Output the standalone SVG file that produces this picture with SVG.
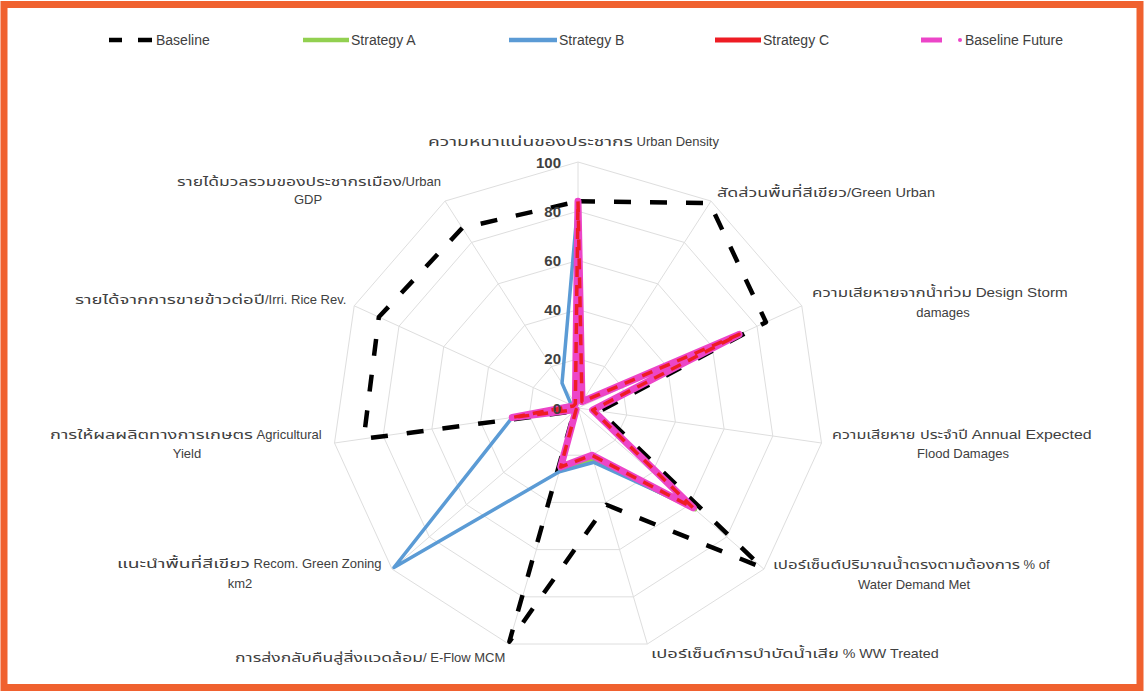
<svg xmlns="http://www.w3.org/2000/svg" width="1145" height="693" viewBox="0 0 1145 693">
<style>
.grid{fill:none;stroke:#dedede;stroke-width:1}
.lbl{font-family:"Liberation Sans","Noto Sans","Noto Sans Thai",sans-serif;font-size:13px;fill:#404040}
.tick{font-family:"Liberation Sans",sans-serif;font-size:15px;font-weight:bold;fill:#404040;text-anchor:end;dominant-baseline:central}
.leg{font-family:"Liberation Sans","Noto Sans",sans-serif;font-size:14px;fill:#404040;dominant-baseline:central}
.s{fill:none;stroke-linejoin:round}
</style>
<rect x="0" y="0" width="1145" height="693" fill="#ffffff"/>
<rect id="frame" x="4" y="4.5" width="1136" height="683" fill="#ffffff" stroke="#f0612f" stroke-width="7"/>

<g id="grid">
<polygon class="grid" points="578,358.8 604.6,366.61 622.75,387.56 626.7,415 615.18,440.22 591.86,455.21 564.14,455.21 540.82,440.22 529.3,415 533.25,387.56 551.4,366.61"/>
<polygon class="grid" points="578,309.6 631.2,325.22 667.51,367.12 675.4,422 652.37,472.44 605.72,502.41 550.28,502.41 503.63,472.44 480.6,422 488.49,367.12 524.8,325.22"/>
<polygon class="grid" points="578,260.4 657.8,283.83 712.26,346.68 724.1,429 689.55,504.66 619.58,549.62 536.42,549.62 466.45,504.66 431.9,429 443.74,346.68 498.2,283.83"/>
<polygon class="grid" points="578,211.2 684.4,242.44 757.02,326.25 772.8,436.01 726.73,536.88 633.44,596.83 522.56,596.83 429.27,536.88 383.2,436.01 398.98,326.25 471.6,242.44"/>
<polygon class="grid" points="578,162 711,201.05 801.77,305.81 821.5,443.01 763.91,569.1 647.31,644.03 508.69,644.03 392.09,569.1 334.5,443.01 354.23,305.81 445,201.05"/>
<path class="grid" d="M578,408L578,162M578,408L711,201.05M578,408L801.77,305.81M578,408L821.5,443.01M578,408L763.91,569.1M578,408L647.31,644.03M578,408L508.69,644.03M578,408L392.09,569.1M578,408L334.5,443.01M578,408L354.23,305.81M578,408L445,201.05"/>
</g>

<g id="series">
<polygon id="baseline" class="s" stroke="#000000" stroke-width="4.5" stroke-dasharray="17 19" points="578,201.36 709.67,203.12 765.97,322.16 599.91,411.15 762.05,567.48 606.42,504.77 509.39,641.67 574.28,411.22 363.72,438.81 378.85,317.05 462.29,227.96"/>
<polygon id="strategy-a" class="s" stroke="#92d050" stroke-width="4" points="578,201.36 581.99,401.79 739.11,334.42 592.61,410.1 695.13,509.49 593.25,459.93 559.98,469.37 576.14,409.61 512.26,417.45 573.52,405.96 575.34,403.86"/>
<polygon id="strategy-b" class="s" stroke="#5b9bd5" stroke-width="3.5" points="578,201.36 581.99,401.79 739.11,334.42 592.61,410.1 693.27,507.88 593.94,462.29 559.29,471.73 393.95,567.48 512.26,417.45 571.29,404.93 562.04,383.17"/>
<polygon id="baseline-future" class="s" stroke="#ec45c8" stroke-width="7" points="578,201.36 581.99,401.79 739.11,334.42 592.61,410.1 693.27,507.88 591.86,455.21 560.67,467.01 576.14,409.61 512.26,417.45 573.52,405.96 575.34,403.86"/>
<polygon id="strategy-c" class="s" stroke="#ee1c24" stroke-width="3.5" stroke-dasharray="11 8" points="578,201.36 581.99,401.79 739.11,334.42 592.61,410.1 693.27,507.88 591.86,455.21 560.67,467.01 576.14,409.61 512.26,417.45 573.52,405.96 575.34,403.86"/>
</g>

<g id="ticks">
<text class="tick" x="561" y="408">0</text>
<text class="tick" x="561" y="358.8">20</text>
<text class="tick" x="561" y="309.6">40</text>
<text class="tick" x="561" y="260.4">60</text>
<text class="tick" x="561" y="211.2">80</text>
<text class="tick" x="561" y="162">100</text>
</g>

<g id="axis-labels" class="lbl">
<text x="428" y="146"><tspan textLength="205" lengthAdjust="spacingAndGlyphs">ความหนาแน่นของประชากร</tspan> Urban Density</text>
<text x="717" y="197"><tspan textLength="130" lengthAdjust="spacingAndGlyphs">สัดส่วนพื้นที่สีเขียว</tspan><tspan textLength="88" lengthAdjust="spacingAndGlyphs">/Green Urban</tspan></text>
<text x="812" y="297"><tspan textLength="160" lengthAdjust="spacingAndGlyphs">ความเสียหายจากน้ำท่วม</tspan> <tspan textLength="92" lengthAdjust="spacingAndGlyphs">Design Storm</tspan></text>
<text x="943" y="317" text-anchor="middle">damages</text>
<text x="832" y="439"><tspan textLength="136" lengthAdjust="spacingAndGlyphs">ความเสียหาย ประจำปี</tspan> <tspan textLength="120" lengthAdjust="spacingAndGlyphs">Annual Expected</tspan></text>
<text x="963" y="458" text-anchor="middle">Flood Damages</text>
<text x="773" y="569"><tspan textLength="247" lengthAdjust="spacingAndGlyphs">เปอร์เซ็นต์ปริมาณน้ำตรงตามต้องการ</tspan> % of</text>
<text x="914" y="589" text-anchor="middle">Water Demand Met</text>
<text x="651" y="658"><tspan textLength="188" lengthAdjust="spacingAndGlyphs">เปอร์เซ็นต์การบำบัดน้ำเสีย</tspan> <tspan textLength="96" lengthAdjust="spacingAndGlyphs">% WW Treated</tspan></text>
<text x="235" y="662"><tspan textLength="188" lengthAdjust="spacingAndGlyphs">การส่งกลับคืนสู่สิ่งแวดล้อม</tspan>/ E-Flow MCM</text>
<text x="117" y="568"><tspan textLength="133" lengthAdjust="spacingAndGlyphs">แนะนำพื้นที่สีเขียว</tspan> Recom. Green Zoning</text>
<text x="240" y="588" text-anchor="middle">km2</text>
<text x="50" y="439"><tspan textLength="203" lengthAdjust="spacingAndGlyphs">การให้ผลผลิตทางการเกษตร</tspan> Agricultural</text>
<text x="187" y="458" text-anchor="middle">Yield</text>
<text x="75" y="304"><tspan textLength="190" lengthAdjust="spacingAndGlyphs">รายได้จากการขายข้าวต่อปี</tspan>/Irri. Rice Rev.</text>
<text x="177" y="186"><tspan textLength="225" lengthAdjust="spacingAndGlyphs">รายได้มวลรวมของประชากรเมือง</tspan>/Urban</text>
<text x="308" y="204" text-anchor="middle">GDP</text>
</g>

<g id="legend">
<path d="M109,40H122M138,40H152" stroke="#000000" stroke-width="4.5"/>
<text class="leg" x="156" y="40">Baseline</text>
<path d="M303,40H349" stroke="#92d050" stroke-width="4.5"/>
<text class="leg" x="351" y="40">Strategy A</text>
<path d="M509,40H557" stroke="#5b9bd5" stroke-width="4.5"/>
<text class="leg" x="559" y="40">Strategy B</text>
<path d="M715,40H761" stroke="#ee1c24" stroke-width="5"/>
<text class="leg" x="763" y="40">Strategy C</text>
<path d="M921,40H942" stroke="#ec45c8" stroke-width="5"/>
<circle cx="960" cy="40" r="2" fill="#ec45c8"/>
<text class="leg" x="965" y="40">Baseline Future</text>
</g>
</svg>
